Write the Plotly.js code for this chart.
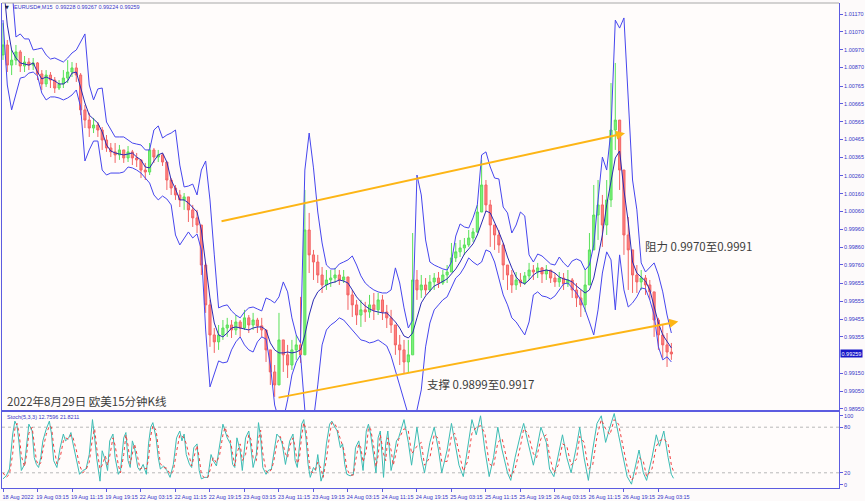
<!DOCTYPE html>
<html><head><meta charset="utf-8">
<script src="https://cdn.plot.ly/plotly-3.0.1.min.js"></script>
<style>html,body{margin:0;padding:0;background:#fdfafa;}#chart{width:865px;height:501px;}</style>
</head><body><div id="chart"></div>
<script>
const symbolInfo = 'EURUSD#,M15  0.99228 0.99267 0.99224 0.99259';
const stochInfo = 'Stoch(5,3,3) 12.7596 21.8211';
const chartTitle = '2022年8月29日 欧美15分钟K线';
const supportText = '支撑 0.9899至0.9917';
const resistText = '阻力 0.9970至0.9991';

const barsPerCandle = 4;   // one drawn candle = 1 hour of M15 bars
const barsPerLabel = 32;   // time labels every 8 hours
const timeLabels = ['18 Aug 2022','19 Aug 03:15','19 Aug 11:15','19 Aug 19:15','22 Aug 03:15','22 Aug 11:15','22 Aug 19:15','23 Aug 03:15','23 Aug 11:15','23 Aug 19:15','24 Aug 03:15','24 Aug 11:15','24 Aug 19:15','25 Aug 03:15','25 Aug 11:15','25 Aug 19:15','26 Aug 03:15','26 Aug 11:15','26 Aug 19:15','29 Aug 03:15'];
const priceTicks = [1.0117,1.0107,1.0097,1.0087,1.00765,1.00665,1.00565,1.00465,1.00365,1.0026,1.0016,1.0006,0.9996,0.9986,0.9976,0.99655,0.99555,0.99455,0.99355,0.9915,0.9905,0.9895];
const stochTickLabels = ['0', '20', '80', '100'];
const stochTickSpots = [4, 20, 80, 95];   // MT4 draws the 0/100 labels just inside the panel
const stochLevels = [20, 80];

const firstOpen = 1.00940;
const candleClose = [
1.00996,1.00883,1.00911,1.00957,1.00878,1.00900,1.00883,1.00895,1.00833,1.00777,
1.00827,1.00799,1.00754,1.00777,1.00810,1.00844,1.00867,1.00827,1.00631,1.00574,
1.00529,1.00546,1.00518,1.00462,1.00417,1.00395,1.00378,1.00406,1.00361,1.00395,
1.00361,1.00350,1.00293,1.00282,1.00406,1.00366,1.00378,1.00338,1.00237,1.00192,
1.00153,1.00125,1.00142,1.00069,1.00024,0.99984,0.99759,0.99535,0.99366,0.99327,
0.99366,0.99405,0.99422,0.99394,0.99439,0.99405,0.99462,0.99422,0.99450,0.99417,
0.99394,0.99282,0.99158,0.99085,0.99338,0.99254,0.99197,0.99282,0.99310,0.99254,
0.99956,0.99816,0.99776,0.99703,0.99647,0.99675,0.99686,0.99703,0.99675,0.99692,
0.99591,0.99535,0.99478,0.99507,0.99495,0.99535,0.99507,0.99563,0.99495,0.99462,
0.99422,0.99310,0.99282,0.99214,0.99254,0.99675,0.99619,0.99647,0.99619,0.99664,
0.99686,0.99658,0.99703,0.99720,0.99799,0.99833,0.99855,0.99872,0.99911,0.99945,
1.00057,1.00209,1.00097,0.99984,0.99928,0.99872,0.99759,0.99703,0.99647,0.99675,
0.99658,0.99698,0.99731,0.99720,0.99743,0.99709,0.99731,0.99686,0.99664,0.99686,
0.99653,0.99675,0.99619,0.99574,0.99535,0.99647,0.99844,1.00040,1.00097,0.99984,
1.00125,1.00518,1.00574,1.00293,0.99928,0.99844,0.99703,0.99664,0.99686,0.99647,
0.99608,0.99450,0.99366,0.99310,0.99270,0.99259];
const candleHigh = [
1.01119,1.01024,1.00968,1.00996,1.00968,1.00934,1.00923,1.00923,1.00900,1.00855,
1.00855,1.00844,1.00816,1.00799,1.00855,1.00911,1.00900,1.00895,1.00838,1.00659,
1.00614,1.00586,1.00563,1.00535,1.00490,1.00445,1.00445,1.00434,1.00406,1.00428,
1.00406,1.00389,1.00350,1.00333,1.00445,1.00417,1.00406,1.00389,1.00338,1.00248,
1.00209,1.00181,1.00164,1.00142,1.00097,1.00069,0.99984,0.99771,0.99563,0.99405,
0.99422,0.99450,0.99462,0.99450,0.99478,0.99450,0.99507,0.99478,0.99490,0.99462,
0.99462,0.99394,0.99282,0.99197,0.99490,0.99338,0.99310,0.99338,0.99366,0.99580,
1.00181,1.00052,0.99844,0.99816,0.99748,0.99731,0.99731,0.99743,0.99731,0.99731,
0.99692,0.99619,0.99563,0.99563,0.99552,0.99591,0.99602,0.99602,0.99591,0.99535,
0.99507,0.99422,0.99366,0.99338,0.99338,0.99939,0.99731,0.99703,0.99686,0.99703,
0.99714,0.99720,0.99731,0.99759,0.99883,0.99883,0.99900,0.99911,0.99956,0.99967,
1.00097,1.00350,1.00237,1.00125,0.99984,0.99956,0.99883,0.99759,0.99731,0.99720,
0.99714,0.99720,0.99771,0.99759,0.99771,0.99748,0.99759,0.99731,0.99714,0.99720,
0.99714,0.99731,0.99686,0.99658,0.99619,0.99731,0.99939,1.00209,1.00237,1.00153,
1.00237,1.00782,1.00895,1.00574,1.00293,1.00029,0.99844,0.99759,0.99731,0.99703,
0.99675,0.99608,0.99462,0.99422,0.99377,0.99321];
const candleLow = [
1.00912,1.00844,1.00827,1.00883,1.00844,1.00844,1.00855,1.00855,1.00799,1.00743,
1.00760,1.00754,1.00726,1.00743,1.00754,1.00782,1.00816,1.00788,1.00602,1.00529,
1.00479,1.00501,1.00479,1.00406,1.00395,1.00366,1.00333,1.00350,1.00333,1.00338,
1.00321,1.00310,1.00248,1.00237,1.00265,1.00333,1.00338,1.00316,1.00181,1.00153,
1.00125,1.00085,1.00069,1.00001,0.99973,0.99939,0.99703,0.99490,0.99299,0.99265,
0.99282,0.99338,0.99355,0.99349,0.99366,0.99355,0.99394,0.99377,0.99394,0.99377,
0.99355,0.99214,0.99085,0.99018,0.99085,0.99158,0.99124,0.99169,0.99226,0.99209,
0.99366,0.99714,0.99675,0.99658,0.99602,0.99619,0.99636,0.99658,0.99647,0.99658,
0.99507,0.99467,0.99422,0.99411,0.99439,0.99462,0.99450,0.99478,0.99450,0.99405,
0.99377,0.99254,0.99197,0.99152,0.99152,0.99254,0.99563,0.99574,0.99591,0.99608,
0.99619,0.99630,0.99647,0.99658,0.99720,0.99776,0.99804,0.99816,0.99861,0.99889,
0.99939,1.00057,1.00057,0.99861,0.99844,0.99827,0.99675,0.99619,0.99602,0.99619,
0.99636,0.99647,0.99675,0.99675,0.99686,0.99658,0.99675,0.99658,0.99636,0.99636,
0.99619,0.99636,0.99574,0.99523,0.99467,0.99495,0.99647,0.99844,0.99900,0.99861,
0.99928,1.00085,1.00406,1.00181,0.99816,0.99619,0.99602,0.99602,0.99619,0.99591,
0.99563,0.99355,0.99282,0.99237,0.99186,0.99226];

const bandUpper = [
1.01586,1.01474,1.01333,1.01041,1.01058,1.01030,1.01030,1.00968,1.00973,1.00979,
1.00940,1.00917,1.00923,1.00912,1.00900,1.00923,1.00951,1.00968,1.01013,1.01058,
1.00771,1.00687,1.00749,1.00754,1.00563,1.00518,1.00479,1.00479,1.00479,1.00462,
1.00445,1.00439,1.00434,1.00406,1.00406,1.00518,1.00541,1.00473,1.00490,1.00501,
1.00518,1.00321,1.00198,1.00203,1.00214,1.00153,1.00293,1.00344,1.00125,0.99816,
0.99518,0.99529,0.99535,0.99501,0.99478,0.99462,0.99495,0.99518,0.99523,0.99512,
0.99501,0.99574,0.99563,0.99546,0.99580,0.99664,0.99608,0.99462,0.99366,0.99321,
1.00293,1.00501,1.00305,1.00057,0.99883,0.99759,0.99737,0.99737,0.99765,0.99776,
0.99788,0.99810,0.99759,0.99698,0.99658,0.99636,0.99619,0.99608,0.99602,0.99602,
0.99619,0.99743,0.99658,0.99518,0.99405,0.99450,1.00265,1.00153,0.99900,0.99776,
0.99759,0.99748,0.99737,0.99731,0.99776,0.99922,0.99990,0.99973,0.99967,1.00024,
1.00097,1.00378,1.00395,1.00310,1.00248,1.00243,1.00085,1.00052,0.99939,0.99984,
1.00057,1.00035,0.99816,0.99776,0.99821,0.99810,0.99788,0.99765,0.99759,0.99804,
0.99771,0.99748,0.99782,0.99793,0.99782,0.99731,0.99759,0.99872,1.00125,1.00366,
1.00293,1.00518,1.01136,1.01091,1.01148,1.00687,1.00237,1.00069,0.99771,0.99720,
0.99743,0.99771,0.99703,0.99608,0.99478,0.99377];
const bandMid = [
1.01361,1.01108,1.00968,1.00923,1.00895,1.00889,1.00883,1.00895,1.00844,1.00805,
1.00816,1.00805,1.00794,1.00777,1.00777,1.00794,1.00838,1.00844,1.00760,1.00670,
1.00602,1.00580,1.00557,1.00507,1.00434,1.00400,1.00389,1.00383,1.00378,1.00383,
1.00389,1.00366,1.00350,1.00310,1.00305,1.00344,1.00378,1.00389,1.00338,1.00237,
1.00187,1.00125,1.00125,1.00108,1.00085,1.00057,0.99956,0.99759,0.99574,0.99433,
0.99366,0.99355,0.99377,0.99405,0.99411,0.99405,0.99400,0.99394,0.99405,0.99411,
0.99411,0.99394,0.99321,0.99282,0.99265,0.99265,0.99270,0.99265,0.99270,0.99282,
0.99366,0.99478,0.99563,0.99608,0.99630,0.99647,0.99658,0.99664,0.99675,0.99669,
0.99658,0.99619,0.99580,0.99552,0.99529,0.99512,0.99501,0.99495,0.99490,0.99490,
0.99467,0.99439,0.99405,0.99360,0.99349,0.99377,0.99462,0.99546,0.99585,0.99613,
0.99641,0.99653,0.99669,0.99681,0.99709,0.99737,0.99776,0.99821,0.99849,0.99878,
0.99928,1.00001,1.00063,1.00052,1.00001,0.99945,0.99883,0.99804,0.99743,0.99692,
0.99664,0.99653,0.99675,0.99703,0.99720,0.99726,0.99731,0.99726,0.99714,0.99692,
0.99681,0.99675,0.99664,0.99641,0.99619,0.99602,0.99619,0.99686,0.99804,0.99928,
1.00097,1.00237,1.00361,1.00400,1.00181,1.00001,0.99776,0.99714,0.99692,0.99669,
0.99619,0.99523,0.99433,0.99366,0.99327,0.99293];
const bandLower = [
1.01136,1.00771,1.00631,1.00715,1.00810,1.00816,1.00838,1.00844,1.00822,1.00726,
1.00687,1.00704,1.00704,1.00698,1.00687,1.00698,1.00715,1.00743,1.00648,1.00344,
1.00406,1.00456,1.00456,1.00293,1.00265,1.00276,1.00276,1.00276,1.00282,1.00310,
1.00305,1.00293,1.00276,1.00248,1.00220,1.00153,1.00125,1.00147,1.00130,1.00097,
0.99928,0.99872,0.99911,0.99945,0.99911,0.99934,0.99844,0.99394,0.99074,0.99141,
0.99220,0.99209,0.99214,0.99282,0.99327,0.99355,0.99310,0.99282,0.99270,0.99327,
0.99355,0.99343,0.99197,0.98972,0.98888,0.98888,0.99001,0.99141,0.99214,0.99254,
0.98944,0.98888,0.98888,0.99085,0.99310,0.99394,0.99422,0.99439,0.99462,0.99450,
0.99422,0.99394,0.99360,0.99338,0.99332,0.99321,0.99327,0.99338,0.99321,0.99304,
0.99248,0.99169,0.99085,0.99001,0.98916,0.98888,0.98944,0.99057,0.99299,0.99433,
0.99507,0.99535,0.99563,0.99580,0.99636,0.99686,0.99709,0.99748,0.99799,0.99776,
0.99759,0.99776,0.99844,0.99833,0.99776,0.99675,0.99591,0.99535,0.99462,0.99439,
0.99405,0.99366,0.99439,0.99591,0.99608,0.99585,0.99580,0.99568,0.99585,0.99619,
0.99653,0.99658,0.99630,0.99602,0.99563,0.99507,0.99439,0.99366,0.99507,0.99714,
0.99833,0.99788,0.99507,0.99816,0.99619,0.99523,0.99546,0.99580,0.99630,0.99625,
0.99563,0.99478,0.99299,0.99226,0.99243,0.99214];

const stochBars = [
0,3,6,9,11,13,15,17,20,22, 24,27,29,31,33,35,37,40,43,45,
47,50,53,56,58,61,63,65,68,71, 74,77,80,83,85,87,90,92,95,97,
99,102,104,107,109,112,114,116,118,120, 122,125,127,130,133,135,137,139,142,144,
146,149,152,155,158,161,164,166,168,170, 173,175,177,180,182,184,187,190,193,195,
198,201,204,206,208,211,213,215,217,220, 222,225,228,230,232,235,237,239,241,244,
246,249,251,254,257,259,262,264,266,269, 271,273,275,277,279,281,283,285,288,290,
292,295,297,300,303,305,308,310,313,315, 317,319,322,325,327,330,332,334,337,339,
341,344,346,348,350,353,355,357,360,362, 365,367,372,376,379,384,388,391,396,400,
404,407,412,416,419,423,427,431,435,439, 443,447,451,455,459,463,468,471,475,480,
483,487,492,495,499,504,507,511,515,519, 523,527,532,535,539,543,547,551,555,559,
563,567,571,575,579,583,587,590,594,597, 602,606,609,613,617,620,622];
const stochK = [
12,16,25,71,88,82,58,23,31,62, 84,75,40,31,27,40,62,77,88,71,
36,27,53,71,62,66,73,58,40,18, 23,25,44,90,66,38,9,49,36,23,
62,71,40,18,23,66,73,36,27,62, 53,27,23,31,18,58,80,86,66,40,
25,29,23,14,31,66,75,62,71,44, 31,27,53,58,23,12,14,14,44,36,
29,58,84,75,66,58,31,27,66,49, 23,66,75,53,27,44,86,66,27,18,
23,25,44,71,66,58,31,49,62,71, 36,27,53,84,90,66,31,14,27,23,
44,9,18,58,84,88,80,75,53,58, 31,18,16,18,53,62,44,23,75,84,
71,36,20,66,75,14,58,75,23,36, 62,66,90,60,30,80,40,20,60,80,
50,20,50,85,60,30,15,55,90,70, 95,50,15,40,80,50,20,10,40,70,
85,60,30,50,80,60,25,15,45,70, 40,20,55,80,40,10,50,85,95,60,
80,98,70,40,15,5,30,50,20,10, 40,70,55,75,40,18,12.76];
const stochD = [
20,14,18,45,78,85,72,42,28,45, 72,80,58,36,30,33,50,70,82,80,
55,32,40,62,66,64,70,66,50,30, 20,24,34,66,78,52,25,30,42,30,
42,66,56,30,20,44,70,56,32,44, 58,40,25,27,25,38,68,82,76,54,
32,27,26,18,22,48,70,68,66,58, 38,29,40,56,40,18,13,14,28,40,
33,44,70,80,70,62,45,29,46,58, 36,44,70,64,40,36,64,76,46,22,
20,24,34,58,68,62,45,40,55,66, 54,32,40,68,86,78,48,22,20,25,
34,26,14,38,70,86,84,78,64,56, 45,25,17,17,35,58,53,34,49,80,
78,54,28,43,70,45,36,66,50,30, 48,64,78,75,45,55,60,30,40,70,
65,35,35,68,72,45,22,35,72,80, 82,72,32,28,60,65,35,15,25,55,
78,72,45,40,65,70,42,20,30,58, 55,30,38,68,60,25,30,68,90,78,
70,90,84,55,28,10,18,40,35,15, 25,55,62,65,58,30,21.82];

const channelUpperBars = [201.3, 577.0];
const channelUpperPrices = [1.00003, 1.00500];
const channelLowerBars = [254.2, 626.4];
const channelLowerPrices = [0.99012, 0.99441];

// ---- build ----
const candleBars = candleClose.map((_, i) => i * barsPerCandle);
const candleOpen = candleClose.map((c, i) => i === 0 ? firstOpen : candleClose[i - 1]);
const labelBars = timeLabels.map((_, i) => i * barsPerLabel);
const lastClose = candleClose[candleClose.length - 1];

const AXBLUE = '#5c5ce0';
const ORANGE = '#fdb515';
const tickFont = {family: 'Liberation Sans, Arial, sans-serif', size: 5.5, color: '#3636c8'};

const traces = [
  {type: 'scatter', mode: 'lines', x: candleBars, y: bandUpper, line: {color: '#4646ee', width: 1}, xaxis: 'x', yaxis: 'y', hoverinfo: 'skip'},
  {type: 'scatter', mode: 'lines', x: candleBars, y: bandLower, line: {color: '#4646ee', width: 1}, xaxis: 'x', yaxis: 'y', hoverinfo: 'skip'},
  {type: 'candlestick', x: candleBars, open: candleOpen, high: candleHigh, low: candleLow, close: candleClose,
   xaxis: 'x', yaxis: 'y', whiskerwidth: 0, hoverinfo: 'skip',
   increasing: {line: {color: '#5ae05a', width: 1}, fillcolor: '#7ef27e'},
   decreasing: {line: {color: '#f26464', width: 1}, fillcolor: '#ff8282'}},
  {type: 'scatter', mode: 'lines', x: candleBars, y: bandMid, line: {color: '#2a2ab4', width: 1}, xaxis: 'x', yaxis: 'y', hoverinfo: 'skip'},
  {type: 'scatter', mode: 'lines', x: stochBars, y: stochK, line: {color: '#3cbcb4', width: 1}, xaxis: 'x2', yaxis: 'y2', hoverinfo: 'skip'},
  {type: 'scatter', mode: 'lines', x: stochBars, y: stochD, line: {color: '#f04040', width: 1, dash: 'dot'}, xaxis: 'x2', yaxis: 'y2', hoverinfo: 'skip'}
];

const shapes = stochLevels.map(v => ({type: 'line', xref: 'paper', x0: 0, x1: 1, yref: 'y2', y0: v, y1: v,
  line: {color: '#b8b8b8', width: 1, dash: 'dot'}, layer: 'below'}));
shapes.push({type: 'line', xref: 'paper', x0: 0, x1: 1, yref: 'paper', y0: 1, y1: 1, line: {color: '#a8a8a8', width: 1}});

const annFont = {family: 'Noto Sans CJK SC, sans-serif', size: 11.5, color: '#3c3c3c'};
const annotations = [
  {xref: 'x', yref: 'y', x: channelUpperBars[1], y: channelUpperPrices[1], axref: 'x', ayref: 'y',
   ax: channelUpperBars[0], ay: channelUpperPrices[0], text: '', showarrow: true, arrowhead: 2, arrowsize: 0.9,
   arrowwidth: 2, arrowcolor: ORANGE, standoff: 0, startstandoff: 0},
  {xref: 'x', yref: 'y', x: channelLowerBars[1], y: channelLowerPrices[1], axref: 'x', ayref: 'y',
   ax: channelLowerBars[0], ay: channelLowerPrices[0], text: '', showarrow: true, arrowhead: 2, arrowsize: 0.9,
   arrowwidth: 2, arrowcolor: ORANGE, standoff: 0, startstandoff: 0},
  {xref: 'paper', yref: 'paper', x: 0.0036, y: 0.1794, xanchor: 'left', yanchor: 'middle', showarrow: false, text: chartTitle, font: annFont},
  {xref: 'paper', yref: 'paper', x: 0.5054, y: 0.2144, xanchor: 'left', yanchor: 'middle', showarrow: false, text: supportText, font: annFont},
  {xref: 'paper', yref: 'paper', x: 0.7658, y: 0.499, xanchor: 'left', yanchor: 'middle', showarrow: false, text: resistText, font: annFont},
  {xref: 'paper', yref: 'paper', x: 0.0119, y: 0.9918, xanchor: 'left', yanchor: 'middle', showarrow: false, text: symbolInfo, font: tickFont},
  {xref: 'paper', yref: 'paper', x: 0.0012, y: 0.9918, xanchor: 'left', yanchor: 'middle', showarrow: false, text: '▼', font: {family: 'DejaVu Sans', size: 5, color: '#202040'}},
  {xref: 'paper', yref: 'paper', x: 0.0036, y: 0.1464, xanchor: 'left', yanchor: 'middle', showarrow: false, text: stochInfo, font: tickFont},
  {xref: 'paper', yref: 'y', x: 1, y: lastClose, xanchor: 'left', yanchor: 'middle', showarrow: false,
   text: lastClose.toFixed(5), bgcolor: '#1818c8', borderpad: 0.5, xshift: 1,
   font: {family: 'Liberation Sans, Arial, sans-serif', size: 5.5, color: '#ffffff'}}
];

const xRange = [-0.93, 775.5];
const layout = {
  width: 865, height: 501,
  margin: {l: 2, r: 26, t: 3, b: 13, pad: 0},
  paper_bgcolor: '#fdfafa', plot_bgcolor: '#fffcfb',
  showlegend: false, hovermode: false,
  xaxis: {domain: [0, 1], anchor: 'y', range: xRange, showticklabels: false, showgrid: false, zeroline: false,
          showline: true, linecolor: AXBLUE, linewidth: 1.5, ticks: '', rangeslider: {visible: false}, fixedrange: true},
  yaxis: {domain: [0.1608, 1], anchor: 'x', side: 'right', range: [0.98944, 1.01232], tickmode: 'array',
          tickvals: priceTicks, ticktext: priceTicks.map(v => v.toFixed(5)), ticks: 'outside', ticklen: 3,
          tickcolor: AXBLUE, tickfont: tickFont, showgrid: false, zeroline: false, showline: true, mirror: true,
          linecolor: AXBLUE, linewidth: 1, fixedrange: true},
  xaxis2: {domain: [0, 1], anchor: 'y2', matches: 'x', range: xRange, tickmode: 'array', tickvals: labelBars,
           ticktext: timeLabels, ticks: 'outside', ticklen: 3, tickcolor: AXBLUE, tickfont: tickFont,
           ticklabelshift: 15, showgrid: false, zeroline: false, showline: true, mirror: true, linecolor: AXBLUE,
           linewidth: 1, rangeslider: {visible: false}, fixedrange: true},
  yaxis2: {domain: [0, 0.1567], anchor: 'x2', side: 'right', range: [0, 100], tickmode: 'array',
           tickvals: stochTickSpots, ticktext: stochTickLabels,
           ticks: 'outside', ticklen: 3, tickcolor: AXBLUE, tickfont: tickFont, showgrid: false, zeroline: false,
           showline: true, mirror: true, linecolor: AXBLUE, linewidth: 1, fixedrange: true},
  shapes: shapes,
  annotations: annotations
};

Plotly.newPlot('chart', traces, layout, {staticPlot: true, displayModeBar: false});
</script></body></html>
